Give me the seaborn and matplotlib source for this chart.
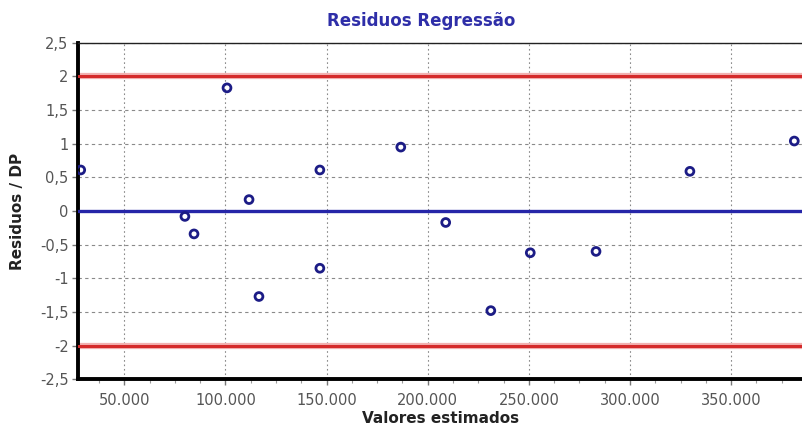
import pandas as pd
import matplotlib
matplotlib.use("Agg")
import matplotlib.pyplot as plt
import matplotlib.ticker as mticker
import seaborn as sns

# fitted values and standardized residuals
valores = [28500, 80000, 84500, 100800, 111700, 116600, 146700, 146700,
           186700, 208900, 231200, 250700, 283200, 329600, 381200]
residuos = [0.61, -0.08, -0.34, 1.83, 0.17, -1.27, 0.61, -0.85,
            0.95, -0.17, -1.48, -0.62, -0.60, 0.59, 1.04]
limites = [-2, 2]

df = pd.DataFrame({"Valores estimados": valores, "Residuos / DP": residuos})

sns.set_style("white")
plt.rcParams["font.family"] = ["DejaVu Sans"]

fig = plt.figure(figsize=(8.03, 4.32), dpi=100)
ax = fig.add_axes([0.0975, 0.122, 0.9025, 0.779])

# reference lines
for lim in limites:
    ax.axhline(lim, color="#f2b0b0", lw=4.5, zorder=2)
    ax.axhline(lim, color="#d42a2a", lw=2.2, zorder=3)
ax.axhline(0, color="#2626a8", lw=2.4, zorder=3)

sns.scatterplot(data=df, x="Valores estimados", y="Residuos / DP", ax=ax,
                marker="o", s=32, facecolor="none", edgecolor="#1c1c86",
                linewidth=2.0, zorder=5)

ax.set_xlim(27300, 385500)
ax.set_ylim(-2.5, 2.5)
ax.xaxis.set_major_locator(mticker.MultipleLocator(50000))
ax.xaxis.set_minor_locator(mticker.MultipleLocator(12500))
ax.yaxis.set_major_locator(mticker.MultipleLocator(0.5))
ax.xaxis.set_major_formatter(mticker.FuncFormatter(lambda v, p: f"{v:,.0f}".replace(",", ".")))
ax.yaxis.set_major_formatter(mticker.FuncFormatter(lambda v, p: f"{v:g}".replace(".", ",")))

ax.grid(True, which="major", axis="y", color="#8a8a8a", linestyle=(0, (3, 3)), lw=0.8, zorder=1)
ax.grid(True, which="major", axis="x", color="#8a8a8a", linestyle=(0, (1.5, 2.5)), lw=0.8, zorder=1)

for side in ["left", "bottom"]:
    ax.spines[side].set_linewidth(2.8)
    ax.spines[side].set_color("black")
ax.spines["top"].set_linewidth(1.0)
ax.spines["top"].set_color("#222222")
ax.spines["right"].set_visible(False)

ax.tick_params(axis="both", which="major", direction="out", length=4, width=1,
               color="#777777", labelsize=10.5, labelcolor="#555555")
ax.tick_params(axis="x", which="major", pad=6)
ax.tick_params(axis="y", which="major", pad=3)
ax.tick_params(axis="x", which="minor", direction="out", length=3, width=0.8, color="#999999")
ax.tick_params(bottom=True, left=True, which="both")
ax.tick_params(axis="y", which="minor", left=False)

ax.set_xlabel("Valores estimados", fontsize=11, fontweight="bold", color="#222222", labelpad=2)
ax.set_ylabel("Residuos / DP", fontsize=11, fontweight="bold", color="#222222", labelpad=11)

fig.text(421 / 803, 1 - 21 / 432, "Residuos Regressão", ha="center", va="center",
         fontsize=12, fontweight="bold", color="#2e2ea8")

fig.savefig("out.png", dpi=100)
